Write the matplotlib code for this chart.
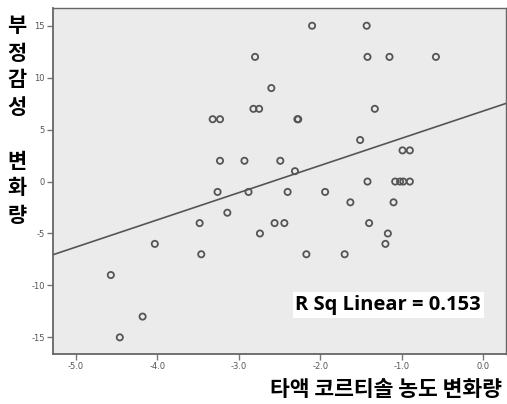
import numpy as np
import matplotlib.pyplot as plt

# change in salivary cortisol (x) vs change in negative affect (y)
cortisol_change = [
    -2.10, -2.80, -2.60, -2.82, -2.75, -3.32, -3.23, -2.28, -2.27, -1.51,
    -3.23, -2.93, -2.49, -2.31, -1.43, -1.42, -1.15, -0.58, -1.33, -0.99,
    -0.90, -1.42, -1.08, -1.02, -0.98, -0.90, -3.26, -2.88, -2.40, -1.94,
    -1.63, -3.48, -3.14, -2.56, -2.44, -2.74, -3.46, -2.17, -1.70, -1.10,
    -1.40, -1.17, -1.20, -4.03, -4.57, -4.18, -4.46,
]
affect_change = [
    15, 12, 9, 7, 7, 6, 6, 6, 6, 4,
    2, 2, 2, 1, 15, 12, 12, 12, 7, 3,
    3, 0, 0, 0, 0, 0, -1, -1, -1, -1,
    -2, -4, -3, -4, -4, -5, -7, -7, -7, -2,
    -4, -5, -6, -6, -9, -13, -15,
]
x_ticks = [-5.0, -4.0, -3.0, -2.0, -1.0, 0.0]
x_tick_labels = ["-5.0", "-4.0", "-3.0", "-2.0", "-1.0", "0.0"]
y_ticks = [15, 10, 5, 0, -5, -10, -15]
r_sq_text = "R Sq Linear = 0.153"
x_label = "타액 코르티솔 농도 변화량"
y_label = "부정감성 변화량"

kr_font = ['Noto Sans CJK KR', 'DejaVu Sans']

W, H = 507, 404
fig = plt.figure(figsize=(W / 100, H / 100), dpi=100)
ax = fig.add_axes([0.1045, 0.1238, 0.8935, 0.8562])
ax.set_facecolor('#ebebeb')

x = np.array(cortisol_change)
y = np.array(affect_change)
ax.scatter(x, y, s=20, facecolors='none', edgecolors='#555555', linewidths=1.3, zorder=3)

# linear fit line across the full x range
slope, intercept = np.polyfit(x, y, 1)
xlim = (-5.28, 0.28)
xs = np.array(xlim)
ax.plot(xs, slope * xs + intercept, color='#555555', lw=1.2, zorder=2)

ax.set_xlim(xlim)
ax.set_ylim(-16.6, 16.7)
ax.set_xticks(x_ticks)
ax.set_xticklabels(x_tick_labels)
ax.set_yticks(y_ticks)
ax.set_yticklabels([str(v) for v in y_ticks])
ax.tick_params(direction='out', length=4, width=1, color='#777777',
               labelsize=6, labelcolor='#555555', pad=2)
for name, sp in ax.spines.items():
    sp.set_color('#666666')
    sp.set_linewidth(1.3 if name in ('left', 'bottom') else 1.0)

ax.text(0.74, 0.142, r_sq_text, transform=ax.transAxes, ha='center', va='center',
        fontsize=14.5, fontweight='bold', family=['Open Sans', 'DejaVu Sans'], color='black',
        bbox=dict(facecolor='white', edgecolor='none', pad=2))

fig.text(0.761, 0.035, x_label, ha='center', va='center', fontsize=15.5,
         fontweight='bold', family=kr_font)

# vertical y label, one character per row, word gap = one empty row
row = 0
for ch in y_label:
    if ch != " ":
        py = 26 + row * 27
        fig.text(17 / W, 1 - py / H, ch, ha='center', va='center', fontsize=15,
                 fontweight='bold', family=kr_font)
    row += 1

fig.savefig('out.png', dpi=100)
